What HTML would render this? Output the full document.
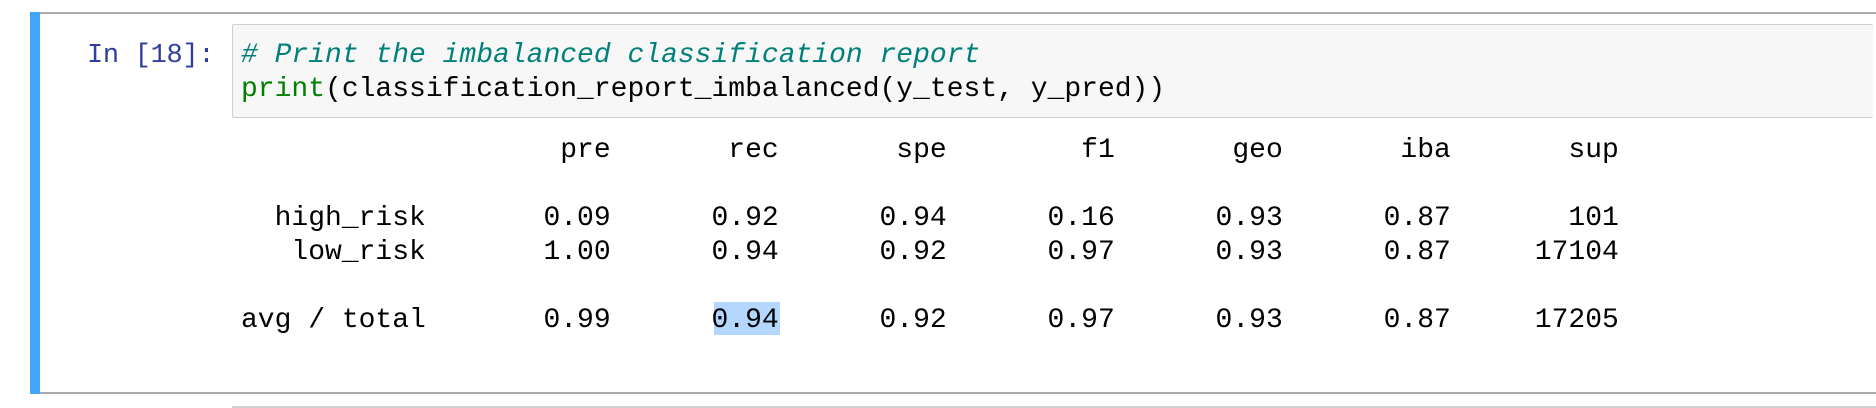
<!DOCTYPE html>
<html><head><meta charset="utf-8"><style>
html,body{margin:0;padding:0;background:#fff;width:1876px;height:408px;overflow:hidden;position:relative}
.mono{font-family:"Liberation Mono",monospace;font-size:28px;line-height:34px;white-space:pre;position:absolute;margin:0}
</style></head><body>
<div style="position:absolute;left:30px;top:12px;width:1846px;height:2px;background:#ababab"></div>
<div style="position:absolute;left:30px;top:392px;width:1846px;height:2px;background:#ababab"></div>
<div style="position:absolute;left:30px;top:12px;width:10px;height:382px;background:#42a5f5"></div>
<div style="position:absolute;left:232px;top:406px;width:1644px;height:2px;background:#d0d0d0"></div>
<div class="mono" style="left:87px;top:39px;color:#303f9f;font-size:27px;letter-spacing:-0.3px">In [18]:</div>
<div style="position:absolute;left:232px;top:24px;width:1640px;height:92px;background:#f7f7f7;border:1px solid #cfcfcf;border-right:none;border-radius:2px"></div>
<pre class="mono" style="left:241px;top:39px;color:#000"><span style="color:#00807a;font-style:italic"># Print the imbalanced classification report</span>
<span style="color:#008000">print</span>(classification_report_imbalanced(y_test, y_pred))</pre>
<div style="position:absolute;left:714px;top:302px;width:66px;height:33px;background:#b3d7ff"></div>
<pre class="mono" style="left:241px;top:134px;color:#000">                   pre       rec       spe        f1       geo       iba       sup

  high_risk       0.09      0.92      0.94      0.16      0.93      0.87       101
   low_risk       1.00      0.94      0.92      0.97      0.93      0.87     17104

avg / total       0.99      0.94      0.92      0.97      0.93      0.87     17205</pre>
</body></html>
